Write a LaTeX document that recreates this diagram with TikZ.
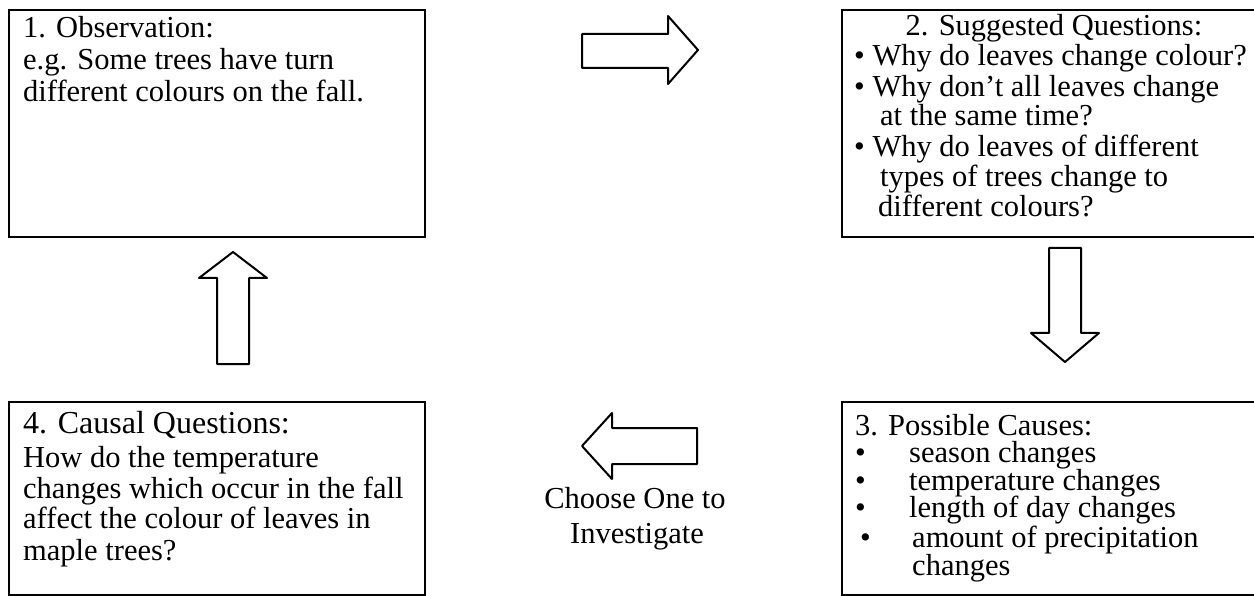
\documentclass[tikz,border=0pt]{standalone}
\usepackage{fontspec}
\setmainfont{Liberation Serif}
\begin{document}
\begin{tikzpicture}[x=1pt,y=-1pt,
  box/.style={draw, line width=2.5pt, inner sep=0pt},
  txt/.style={inner sep=0pt, anchor=base west, text height=0.68em, text depth=0.18em, font=\fontsize{30.5}{31}\selectfont},
  ttl/.style={txt, font=\fontsize{32}{34}\selectfont},
  blk/.style={draw, line width=2pt, line join=round, fill=white}]
\useasboundingbox (0,0) rectangle (1254,596);
\clip (0,0) rectangle (1254,596);
% boxes
\node[box, minimum width=416pt, minimum height=227pt] (b1) at (217,123.5) {};
\node[box, minimum width=428pt, minimum height=227pt] (b2) at (1056,123.5) {};
\node[box, minimum width=428pt, minimum height=193pt] (b3) at (1056,498.5) {};
\node[box, minimum width=416pt, minimum height=193pt] (b4) at (217,498.5) {};
% box 1 text
\node[txt] (t11) at (23,38) {1. Observation:};
\node[txt] (t12) at (23,70) {e.g. Some trees have turn};
\node[txt] (t13) at (23,102) {different colours on the fall.};
% box 2 text
\node[txt, anchor=base] (t21) at (1054,36) {2. Suggested Questions:};
\node[txt] (t22) at (854,66) {• Why do leaves change colour?};
\node[txt] (t23) at (854,97) {• Why don’t all leaves change};
\node[txt] (t24) at (880,126) {at the same time?};
\node[txt] (t25) at (854,157) {• Why do leaves of different};
\node[txt] (t26) at (880,187) {types of trees change to};
\node[txt] (t27) at (878,217) {different colours?};
% box 3 text
\node[txt] (t31) at (855,435) {3. Possible Causes:};
\node[txt] (d1) at (855,462) {•};
\node[txt] (t32) at (909,462) {season changes};
\node[txt] (d2) at (855,490) {•};
\node[txt] (t33) at (909,490) {temperature changes};
\node[txt] (d3) at (855,517) {•};
\node[txt] (t34) at (909,517) {length of day changes};
\node[txt] (d4) at (860,547) {•};
\node[txt] (t35) at (912,547) {amount of precipitation};
\node[txt] (t36) at (912,575) {changes};
% box 4 text
\node[ttl] (t41) at (23,433) {4. Causal Questions:};
\node[txt] (t42) at (23,467) {How do the temperature};
\node[txt] (t43) at (23,498) {changes which occur in the fall};
\node[txt] (t44) at (23,528) {affect the colour of leaves in};
\node[txt] (t45) at (23,560) {maple trees?};
% label
\node[txt, anchor=base] (c1) at (635,508) {Choose One to};
\node[txt, anchor=base] (c2) at (637,543) {Investigate};
% block arrows
\draw[blk] (582,34) -- (668,34) -- (668,16) -- (698,50) -- (668,84) -- (668,68) -- (582,68) -- cycle;
\draw[blk] (1049,248) -- (1081,248) -- (1081,333) -- (1099,333) -- (1065,362) -- (1031,333) -- (1049,333) -- cycle;
\draw[blk] (697,428) -- (612,428) -- (612,413) -- (582,446) -- (612,479) -- (612,464) -- (697,464) -- cycle;
\draw[blk] (217,364) -- (217,278) -- (199,278) -- (233,252) -- (267,278) -- (249,278) -- (249,364) -- cycle;
\end{tikzpicture}
\end{document}
